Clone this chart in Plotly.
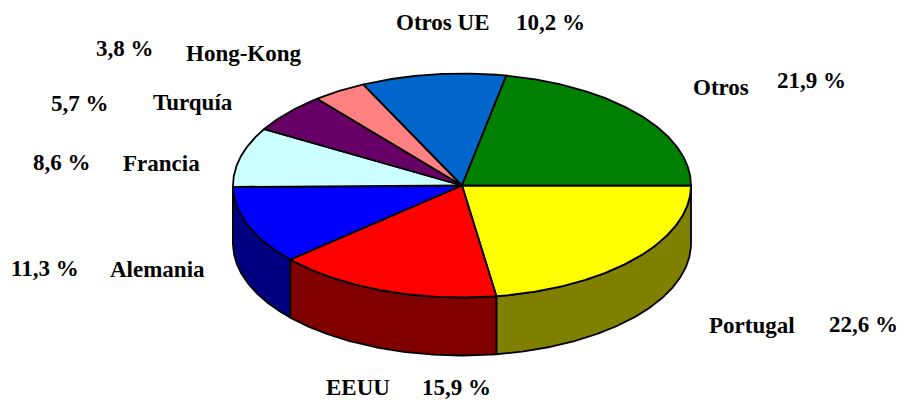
import numpy as np
import plotly.graph_objects as go

# ---- data ----
categories = ["Portugal", "EEUU", "Alemania", "Francia", "Turquía", "Hong-Kong", "Otros UE", "Otros"]
values = [22.6, 15.9, 11.3, 8.6, 5.7, 3.8, 10.2, 21.9]
pct_labels = ["22,6 %", "15,9 %", "11,3 %", "8,6 %", "5,7 %", "3,8 %", "10,2 %", "21,9 %"]

# ---- styles / geometry ----
top_colors = ["#FFFF00", "#FF0000", "#0000FF", "#CCFFFF", "#660066", "#FF8080", "#0066CC", "#008000"]
side_colors = ["#808000", "#800000", "#000080", "#668080", "#330033", "#804040", "#003366", "#004000"]
CX, CY, RX, RY, DEPTH = 462, 185.5, 229, 112, 58
W, H = 904, 403

# label positions (name center, pct center)
name_pos = [(752, 325), (358, 387), (157, 269), (161, 163), (193, 102), (244, 53), (443, 22), (721, 87)]
pct_pos = [(863, 324), (456, 387), (45, 268), (62, 162), (80, 103), (125, 48), (550, 22), (811, 80)]

fig = go.Figure()

vals = np.array(values, dtype=float)
cum = np.concatenate([[0], np.cumsum(vals)]) / vals.sum() * 360.0

def arc(t0, t1, dy=0.0, n=None):
    n = n or max(int(abs(t1 - t0)) * 2 + 2, 4)
    t = np.radians(np.linspace(t0, t1, n))
    return CX + RX * np.cos(t), CY + RY * np.sin(t) + dy

# side walls (visible for angles 0..180, screen y pointing down)
for i in range(len(vals)):
    a0, a1 = max(cum[i], 0), min(cum[i + 1], 180)
    if a1 <= a0:
        continue
    xt, yt = arc(a0, a1)
    xb, yb = arc(a1, a0, DEPTH)
    xs = np.concatenate([xt, xb, xt[:1]])
    ys = np.concatenate([yt, yb, yt[:1]])
    fig.add_trace(go.Scatter(x=xs, y=ys, mode="lines", fill="toself",
                             fillcolor=side_colors[i], line=dict(color="black", width=1.8),
                             hoverinfo="skip", showlegend=False))

# top faces
for i in range(len(vals)):
    xa, ya = arc(cum[i], cum[i + 1])
    xs = np.concatenate([[CX], xa, [CX]])
    ys = np.concatenate([[CY], ya, [CY]])
    fig.add_trace(go.Scatter(x=xs, y=ys, mode="lines", fill="toself",
                             fillcolor=top_colors[i], line=dict(color="black", width=1.8),
                             hoverinfo="skip", showlegend=False))

font = dict(family="Liberation Serif", size=23, color="black", weight="bold")
for i, cat in enumerate(categories):
    fig.add_annotation(x=name_pos[i][0], y=name_pos[i][1], text=cat,
                       showarrow=False, font=font, xanchor="center", yanchor="middle")
    fig.add_annotation(x=pct_pos[i][0], y=pct_pos[i][1], text=pct_labels[i],
                       showarrow=False, font=font, xanchor="center", yanchor="middle")

fig.update_layout(
    width=W, height=H,
    margin=dict(l=0, r=0, t=0, b=0),
    paper_bgcolor="white", plot_bgcolor="white",
    xaxis=dict(range=[0, W], visible=False, fixedrange=True),
    yaxis=dict(range=[H, 0], visible=False, fixedrange=True),
    showlegend=False,
)
fig.write_html("out.html", config={"displayModeBar": False},
               post_script="document.body.style.margin='0';document.body.style.overflow='hidden';")
